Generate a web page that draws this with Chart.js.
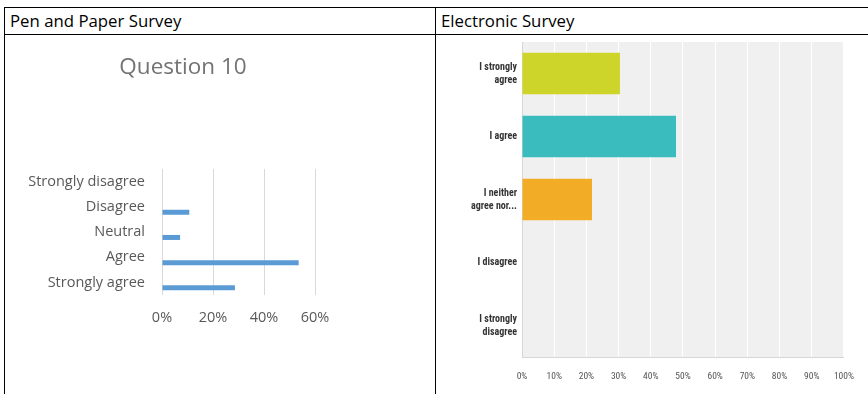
<!DOCTYPE html>
<html>
<head>
<meta charset="utf-8">
<script src="https://cdn.jsdelivr.net/npm/chart.js@4"></script>
<style>
body { margin:0; background:#fff; width:868px; height:394px; overflow:hidden; position:relative; font-family:'Open Sans', sans-serif; }
.line { position:absolute; background:#000; }
.head { position:absolute; top:8px; height:26px; line-height:26px; font-size:16.8px; color:#000; }
.box { position:absolute; }
</style>
</head>
<body>
<div class="line" style="left:4px;top:7px;width:864px;height:1px"></div>
<div class="line" style="left:4px;top:34px;width:864px;height:1px"></div>
<div class="line" style="left:4px;top:7px;width:1px;height:387px"></div>
<div class="line" style="left:435px;top:7px;width:1px;height:387px"></div>
<div class="head" style="left:10px">Pen and Paper Survey</div>
<div class="head" style="left:441px">Electronic Survey</div>
<div class="box" style="left:13px;top:35px;width:340px;height:359px"><canvas id="paperChart"></canvas></div>
<div class="box" style="left:436px;top:35px;width:432px;height:359px"><canvas id="onlineChart"></canvas></div>

<script>
// pen and paper survey (percent of answers)
const paperLabels = ['Strongly disagree', 'Disagree', 'Neutral', 'Agree', 'Strongly agree'];
const paperValues = [0, 10.7, 7.1, 53.6, 28.6];
const paperMax = 60;

// electronic survey (percent of answers)
const onlineLabels = [['I strongly', 'agree'], 'I agree', ['I neither', 'agree nor...'], 'I disagree', ['I strongly', 'disagree']];
const onlineValues = [30.43, 47.83, 21.74, 0, 0];
const onlineColors = ['#cdd52a', '#3abbbe', '#f2ac25', '#cccccc', '#cccccc'];

const narrow = "'Liberation Sans Narrow', 'Roboto Condensed', 'Arial Narrow', sans-serif";

// grey plot background for the survey tool chart
const plotBg = {
    id: 'plotBg',
    beforeDraw(chart) {
        const a = chart.chartArea;
        const ctx = chart.ctx;
        ctx.save();
        ctx.fillStyle = '#f0f0f0';
        ctx.fillRect(a.left, a.top, a.right - a.left, a.bottom - a.top);
        ctx.restore();
    }
};

new Chart(document.getElementById('paperChart'), {
    type: 'bar',
    data: {
        labels: paperLabels,
        datasets: [
            // empty first series so the bar sits low in each row, like Excel did
            { data: paperLabels.map(() => null), backgroundColor: 'transparent' },
            { data: paperValues, backgroundColor: '#5b9bd5' }
        ]
    },
    options: {
        indexAxis: 'y',
        responsive: true,
        maintainAspectRatio: false,
        animation: false,
        categoryPercentage: 0.866,
        barPercentage: 1,
        maxBarThickness: 5,
        layout: { padding: 0 },
        plugins: {
            legend: { display: false },
            tooltip: { enabled: false },
            title: {
                display: true,
                text: 'Question 10',
                color: '#737373',
                font: { family: "'Open Sans', sans-serif", size: 22.5, weight: 'normal' },
                padding: { top: 19, bottom: 88 }
            }
        },
        scales: {
            x: {
                min: 0,
                max: paperMax,
                afterFit: s => { s.height = 99; },
                ticks: {
                    stepSize: 20,
                    padding: 14,
                    color: '#595959',
                    font: { family: "'Open Sans', sans-serif", size: 14.5 },
                    callback: v => v + '%'
                },
                grid: { color: '#d9d9d9', drawTicks: false },
                border: { display: false }
            },
            y: {
                afterFit: s => { s.width = 149; },
                ticks: {
                    padding: 17,
                    color: '#595959',
                    font: { family: "'Open Sans', sans-serif", size: 14.5 }
                },
                grid: { display: false, drawTicks: false },
                border: { display: false }
            },
            // blank strip on the right, keeps the title centred on the whole chart
            yRight: {
                type: 'category',
                position: 'right',
                afterFit: s => { s.width = 38; },
                ticks: { display: false },
                grid: { display: false, drawTicks: false },
                border: { display: false }
            }
        }
    }
});

new Chart(document.getElementById('onlineChart'), {
    type: 'bar',
    data: {
        labels: onlineLabels,
        datasets: [{ data: onlineValues, backgroundColor: onlineColors }]
    },
    options: {
        indexAxis: 'y',
        responsive: true,
        maintainAspectRatio: false,
        animation: false,
        categoryPercentage: 1,
        barPercentage: 0.66,
        layout: { padding: { left: 0, right: 15, top: 7, bottom: 0 } },
        plugins: {
            legend: { display: false },
            tooltip: { enabled: false }
        },
        scales: {
            x: {
                min: 0,
                max: 100,
                afterFit: s => { s.height = 37; },
                ticks: {
                    stepSize: 10,
                    padding: 14,
                    color: '#555',
                    font: { family: narrow, size: 9.5 },
                    callback: v => v + '%'
                },
                grid: { color: '#ffffff', lineWidth: 1, drawTicks: false },
                border: { color: '#d6d6d6' }
            },
            y: {
                afterFit: s => {
                    s.width = 86;
                    s.paddingTop = 0;
                    s.paddingBottom = 0;
                },
                ticks: {
                    padding: 5,
                    color: '#333',
                    font: { family: narrow, size: 10, weight: 'bold', lineHeight: 1.3 }
                },
                grid: { display: false, drawTicks: false },
                border: { color: '#d6d6d6' }
            }
        }
    },
    plugins: [plotBg]
});
</script>
</body>
</html>
